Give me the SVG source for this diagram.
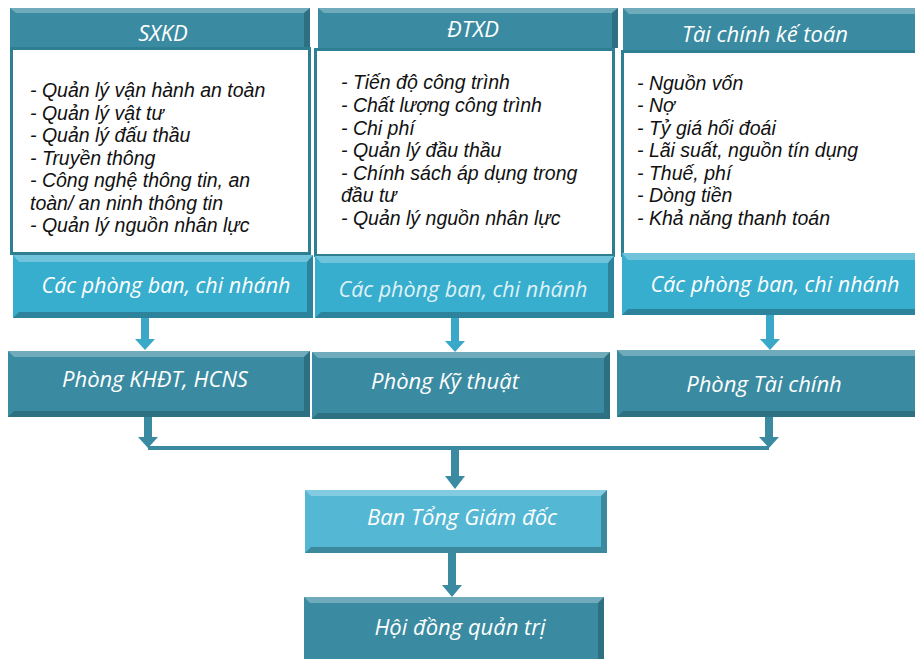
<svg xmlns="http://www.w3.org/2000/svg" width="915" height="659" viewBox="0 0 915 659">
<defs>
<style>
.dk{fill:#3A8BA1;}
.lt{fill:#38AECF;}
.lb{fill:#54B7D4;}
.hi{fill:#ffffff;opacity:0.28;}
.sh{fill:#1E4F5C;opacity:0.45;}
.wb{fill:#ffffff;stroke:#2F7F93;stroke-width:3;}
.wt{font-family:"Open Sans","DejaVu Sans",sans-serif;font-style:italic;fill:#ffffff;text-anchor:middle;font-size:22px;}
.cp{font-size:21.5px;}
.ls{font-family:"Liberation Sans",Arial,sans-serif;font-style:italic;font-size:19.5px;fill:#111111;}
.cn{fill:#3A8BA1;}
.cl{fill:#3AA9C9;}
</style>
</defs>
<g id="connectors">
<rect class="cl" x="141" y="318" width="8" height="22"/>
<polygon class="cl" points="135,339 155,339 145,350"/>
<rect class="cl" x="451" y="318" width="8" height="24"/>
<polygon class="cl" points="445,341 465,341 455,352"/>
<rect class="cl" x="766" y="315" width="8" height="25"/>
<polygon class="cl" points="760,339 780,339 770,350"/>
<rect class="cn" x="144" y="417" width="8" height="21"/>
<polygon class="cn" points="138,437 158,437 148,448"/>
<rect class="cn" x="765" y="417" width="8" height="21"/>
<polygon class="cn" points="759,437 779,437 769,448"/>
<rect class="cn" x="148" y="446" width="621" height="4"/>
<rect class="cn" x="451" y="449" width="8" height="28"/>
<polygon class="cn" points="445,476 465,476 455,489"/>
<rect class="cn" x="448" y="553" width="8" height="33"/>
<polygon class="cn" points="442,585 462,585 452,597"/>
</g>
<g id="sxkd">
<rect class="dk" x="10" y="8" width="300" height="40"/>
<polygon class="hi" points="10,8 310,8 304,13 16,13"/>
<polygon class="sh" points="310,8 310,48 304,48 304,13"/>
<rect class="wb" x="11.5" y="48.5" width="298" height="205"/>
<text class="wt" x="163" y="41">SXKD</text>
<text class="ls" x="30" y="97">- Quản lý vận hành an toàn</text>
<text class="ls" x="30" y="119.5">- Quản lý vật tư</text>
<text class="ls" x="30" y="142">- Quản lý đấu thầu</text>
<text class="ls" x="30" y="164.5">- Truyền thông</text>
<text class="ls" x="30" y="187">- Công nghệ thông tin, an</text>
<text class="ls" x="30" y="209.5">toàn/ an ninh thông tin</text>
<text class="ls" x="30" y="232">- Quản lý nguồn nhân lực</text>
</g>
<g id="sxkd-cpb">
<rect class="lt" x="13" y="255" width="300" height="63"/>
<polygon class="hi" points="13,255 313,255 307,262 19,262"/>
<polygon class="sh" points="313,255 313,318 307,312 307,262"/>
<polygon class="sh" points="13,318 313,318 307,312 19,312" opacity="0.3"/>
<text class="wt cp" x="166" y="293">Các phòng ban, chi nhánh</text>
</g>
<g id="dtxd">
<rect class="dk" x="318" y="8" width="300" height="40"/>
<polygon class="hi" points="318,8 618,8 612,13 324,13"/>
<polygon class="sh" points="618,8 618,48 612,48 612,13"/>
<rect class="wb" x="315.5" y="49.5" width="298" height="206"/>
<text class="wt" x="473" y="37">ĐTXD</text>
<text class="ls" x="341" y="89">- Tiến độ công trình</text>
<text class="ls" x="341" y="112">- Chất lượng công trình</text>
<text class="ls" x="341" y="134.5">- Chi phí</text>
<text class="ls" x="341" y="157">- Quản lý đầu thầu</text>
<text class="ls" x="341" y="179.5">- Chính sách áp dụng trong</text>
<text class="ls" x="341" y="202">đầu tư</text>
<text class="ls" x="341" y="224.5">- Quản lý nguồn nhân lực</text>
</g>
<g id="dtxd-cpb">
<rect class="lt" x="315" y="256" width="299" height="62"/>
<polygon class="hi" points="315,256 614,256 608,263 321,263"/>
<polygon class="sh" points="614,256 614,318 608,312 608,263"/>
<polygon class="sh" points="315,318 614,318 608,312 321,312" opacity="0.3"/>
<text class="wt cp" x="463" y="297" fill-opacity="0.85">Các phòng ban, chi nhánh</text>
</g>
<g id="tckt">
<rect class="dk" x="623" y="8" width="292" height="44"/>
<polygon class="hi" points="623,8 915,8 915,14 629,14"/>
<rect class="wb" x="622.5" y="51.5" width="294" height="204"/>
<text class="wt" x="765" y="42">Tài chính kế toán</text>
<text class="ls" x="637" y="90">- Nguồn vốn</text>
<text class="ls" x="637" y="112">- Nợ</text>
<text class="ls" x="637" y="134.5">- Tỷ giá hối đoái</text>
<text class="ls" x="637" y="157">- Lãi suất, nguồn tín dụng</text>
<text class="ls" x="637" y="179.5">- Thuế, phí</text>
<text class="ls" x="637" y="202">- Dòng tiền</text>
<text class="ls" x="637" y="224.5">- Khả năng thanh toán</text>
</g>
<g id="tckt-cpb">
<rect class="lt" x="622" y="253" width="293" height="62"/>
<polygon class="hi" points="622,253 915,253 915,260 628,260"/>
<polygon class="sh" points="622,315 915,315 915,309 628,309" opacity="0.3"/>
<text class="wt cp" x="775" y="292">Các phòng ban, chi nhánh</text>
</g>
<g id="khdt">
<rect class="dk" x="8" y="351" width="302" height="66"/>
<polygon class="hi" points="8,351 310,351 304,357 14,357"/>
<polygon class="sh" points="310,351 310,417 304,411 304,357"/>
<polygon class="sh" points="8,417 310,417 304,411 14,411" opacity="0.6"/>
<text class="wt" x="155" y="387">Phòng KHĐT, HCNS</text>
</g>
<g id="kythuat">
<rect class="dk" x="312" y="352" width="298" height="67"/>
<polygon class="hi" points="312,352 610,352 604,358 318,358"/>
<polygon class="sh" points="610,352 610,419 604,413 604,358"/>
<polygon class="sh" points="312,419 610,419 604,413 318,413" opacity="0.6"/>
<text class="wt" x="445" y="389">Phòng Kỹ thuật</text>
</g>
<g id="taichinh">
<rect class="dk" x="617" y="350" width="298" height="67"/>
<polygon class="hi" points="617,350 915,350 915,356 623,356"/>
<polygon class="sh" points="617,417 915,417 915,411 623,411" opacity="0.6"/>
<text class="wt" x="764" y="392">Phòng Tài chính</text>
</g>
<g id="bantgd">
<rect class="lb" x="305" y="490" width="302" height="63"/>
<polygon class="hi" points="305,490 607,490 601,496 311,496"/>
<polygon class="sh" points="607,490 607,553 601,547 601,496"/>
<polygon class="sh" points="305,553 607,553 601,547 311,547" opacity="0.4"/>
<text class="wt" x="462" y="525">Ban Tổng Giám đốc</text>
</g>
<g id="hdqt">
<rect class="dk" x="304" y="597" width="300" height="62"/>
<polygon class="hi" points="304,597 604,597 598,603 310,603"/>
<polygon class="sh" points="604,597 604,659 598,659 598,603"/>
<text class="wt" x="460" y="635">Hội đồng quản trị</text>
</g>
</svg>
